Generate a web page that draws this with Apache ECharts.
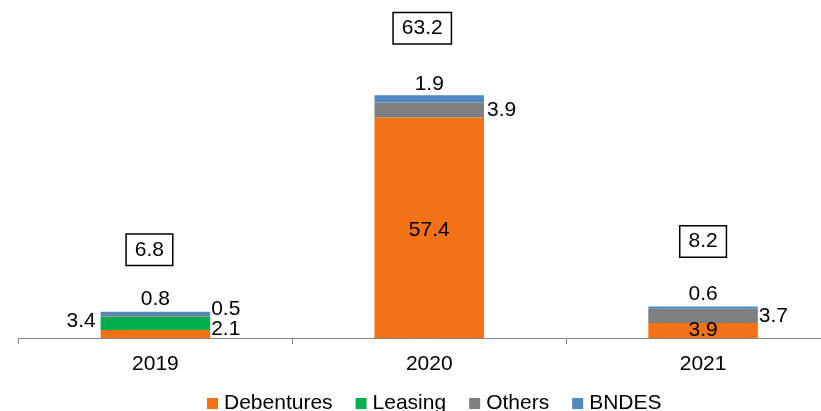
<!DOCTYPE html>
<html>
<head>
<meta charset="utf-8">
<style>
  html, body { margin: 0; padding: 0; background: #ffffff; overflow: hidden; }
  #chart { width: 840px; height: 411px; }
</style>
<script src="https://cdn.jsdelivr.net/npm/echarts@6/dist/echarts.min.js"></script>
</head>
<body>
<div id="chart"></div>
<script>
// Funding by instrument, R$ billions
const years = ['2019', '2020', '2021'];
const debentures = [2.1, 57.4, 3.9];
const leasing = [3.4, 0, 0];
const others = [0.5, 3.9, 3.7];
const bndes = [0.8, 1.9, 0.6];
const totals = [6.8, 63.2, 8.2];

// Label placement for each segment
const debenturesPlace = ['right', 'inside', 'inside'];
const debenturesNudge = [[0, -5], [0, 2], [0, 0]];
const othersNudge = [[0, -7], [2, 0], [0, 0]];
const bndesNudge = [[0, 0], [0, 2], [0, 0]];
const totalNudge = [[-6, -62], [-7, -67], [0, -65]];

const FONT = 'Arial, "Liberation Sans", sans-serif';
const COLORS = {
  debentures: '#F47216',
  leasing: '#00B050',
  others: '#7F7F7F',
  bndes: '#4E8AC0'
};

const baseLabel = {
  color: '#000',
  fontFamily: FONT,
  fontSize: 21
};

function withLabels(values, cfg) {
  return values.map((v, i) => {
    const lab = Object.assign({}, baseLabel, cfg(i, v));
    return { value: v, label: lab };
  });
}

// The plot runs a little past the right edge of the visible page
const chart = echarts.init(document.getElementById('chart'), null, { renderer: 'canvas' });

chart.setOption({
  animation: false,
  backgroundColor: '#ffffff',
  grid: { left: 18.5, right: 0, top: 69, height: 269, containLabel: false },
  legend: {
    data: ['Debentures', 'Leasing', 'Others', 'BNDES'],
    left: 202,
    top: 388,
    itemWidth: 11,
    itemHeight: 11,
    itemGap: 23,
    icon: 'rect',
    textStyle: { color: '#000', fontFamily: FONT, fontSize: 21, padding: [0, 0, 0, 1] }
  },
  xAxis: {
    type: 'category',
    data: years,
    boundaryGap: true,
    axisLine: { lineStyle: { color: '#868686', width: 1 } },
    axisTick: { show: true, length: 6, lineStyle: { color: '#868686' } },
    axisLabel: { color: '#000', fontFamily: FONT, fontSize: 21, margin: 16 }
  },
  yAxis: {
    type: 'value',
    min: 0,
    max: 70,
    show: false,
    splitLine: { show: false }
  },
  series: [
    {
      name: 'Debentures', type: 'bar', stack: 'total', barWidth: '40%',
      itemStyle: { color: COLORS.debentures },
      data: withLabels(debentures, (i) => ({
        show: true, position: debenturesPlace[i], distance: 1, offset: debenturesNudge[i]
      }))
    },
    {
      name: 'Leasing', type: 'bar', stack: 'total',
      itemStyle: { color: COLORS.leasing },
      data: withLabels(leasing, (i, v) => ({
        show: v > 0, position: 'left', distance: 5, offset: [0, -2]
      }))
    },
    {
      name: 'Others', type: 'bar', stack: 'total',
      itemStyle: { color: COLORS.others },
      data: withLabels(others, (i) => ({
        show: true, position: 'right', distance: 1, offset: othersNudge[i]
      }))
    },
    {
      name: 'BNDES', type: 'bar', stack: 'total',
      itemStyle: { color: COLORS.bndes },
      data: withLabels(bndes, (i) => ({
        show: true, position: 'top', distance: 2, offset: bndesNudge[i]
      }))
    },
    {
      name: 'Total', type: 'scatter', symbolSize: 0, silent: true,
      itemStyle: { opacity: 1 },
      data: totals.map((v, i) => ({
        value: v,
        label: Object.assign({}, baseLabel, {
          show: true,
          position: 'inside',
          offset: totalNudge[i],
          opacity: 1,
          borderColor: '#000',
          borderWidth: 1.5,
          padding: [5, 8, 4, 8],
          backgroundColor: '#fff'
        })
      }))
    }
  ]
});
</script>
</body>
</html>
